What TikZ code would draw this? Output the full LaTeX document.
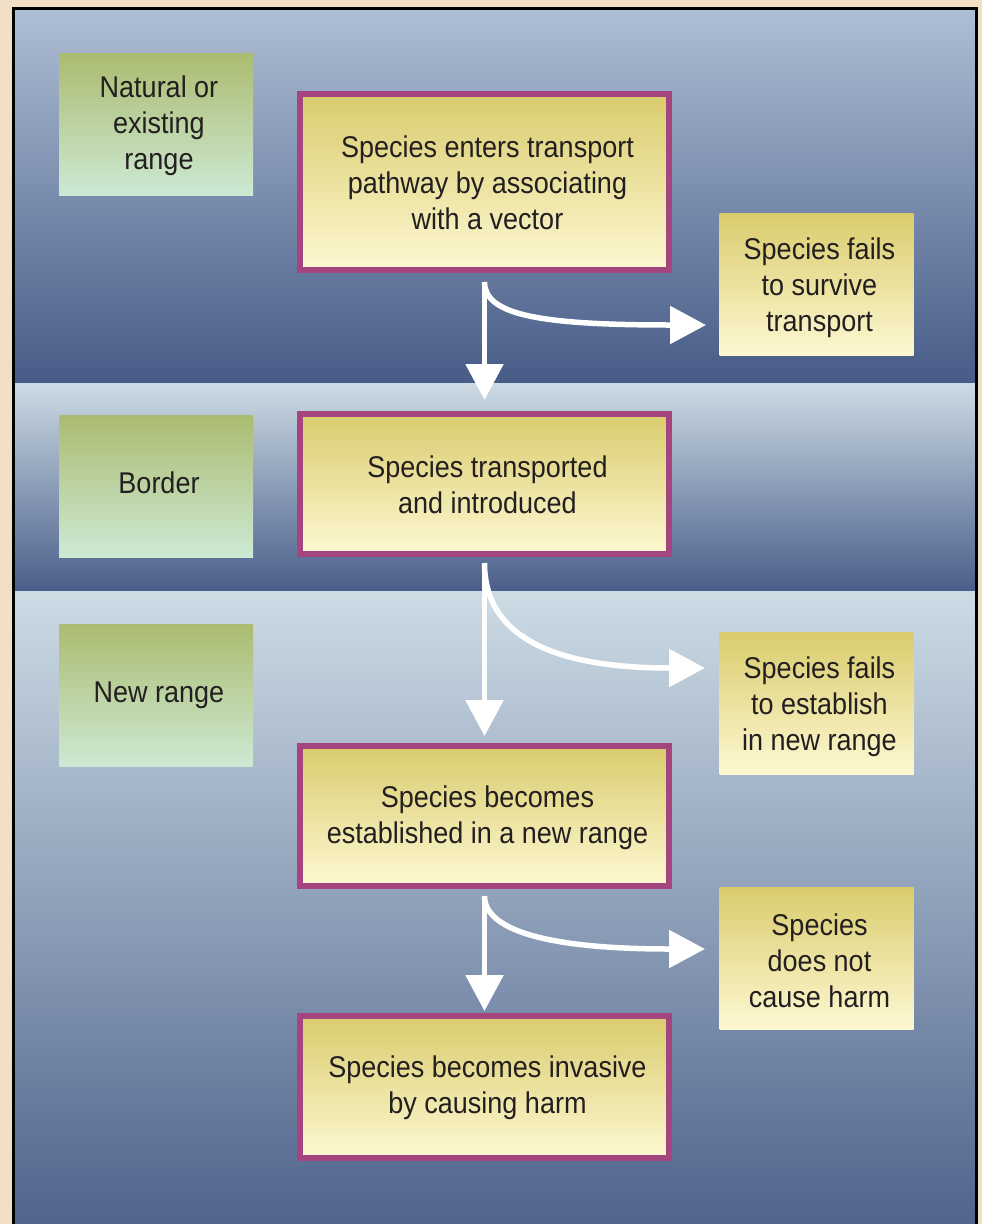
\documentclass[tikz,border=0pt]{standalone}
\usepackage{fontspec}
\setmainfont{Liberation Sans}[FakeStretch=0.9]
\usetikzlibrary{arrows.meta}
\definecolor{bg}{HTML}{F1E0C5}
\definecolor{bandtopA}{HTML}{AEBED4}
\definecolor{bandbotA}{HTML}{475B87}
\definecolor{bandtopB}{HTML}{CCDBE4}
\definecolor{bandbotB}{HTML}{4A5E8A}
\definecolor{bandbotC}{HTML}{50648D}
\definecolor{greentop}{HTML}{ABBC70}
\definecolor{greenbot}{HTML}{CDE9D4}
\definecolor{yeltop}{HTML}{D9CC6D}
\definecolor{yelbot}{HTML}{FEF8D2}
\definecolor{magborder}{HTML}{A4457F}
\definecolor{txt}{HTML}{231F20}
% #1 = extra height on top (moves text down by half of it), #2 = lines
\newcommand\boxtxt[2]{\raisebox{0pt}[\dimexpr\height+#1\relax][\depth]{\begin{tabular}{@{\hspace{6pt}}c@{}}#2\end{tabular}}}
\begin{document}
\begin{tikzpicture}[x=1pt,y=-1pt,
  every node/.style={text=txt, font=\fontsize{30}{36}\selectfont, inner sep=0pt},
  rangebox/.style={shading=axis, top color=greentop, bottom color=greenbot, minimum width=194pt, minimum height=142pt},
  mainbox/.style={shading=axis, top color=yeltop, bottom color=yelbot, draw=magborder, line width=6pt, minimum width=369pt},
  sidebox/.style={shading=axis, top color=yeltop, bottom color=yelbot, minimum width=194pt, minimum height=142pt},
  arr/.style={draw=white, line width=5.5pt, -{Triangle[length=36pt,width=37pt]}}
]
\useasboundingbox (0,0) rectangle (982,1224);
\fill[bg] (0,0) rectangle (982,1224);
% bands
\fill[top color=bandtopA, bottom color=bandbotA] (13,9) rectangle (976,383);
\fill[top color=bandtopB, bottom color=bandbotB] (13,383) rectangle (976,591);
\fill[top color=bandtopB, bottom color=bandbotC] (13,591) rectangle (976,1224);
\draw[black, line width=3pt] (13,1230) -- (13,8) -- (976,8) -- (976,1230);
% range labels
\node[rangebox] (r1) at (156,124.5) {\boxtxt{3pt}{Natural or\\existing\\range}};
\node[rangebox] (r2) at (156,486) {\boxtxt{0pt}{Border}};
\node[rangebox] (r3) at (156,695.5) {\boxtxt{0pt}{New range}};
% main boxes
\node[mainbox, minimum height=176pt] (m1) at (484.5,182) {\boxtxt{7.6pt}{Species enters transport\\pathway by associating\\with a vector}};
\node[mainbox, minimum height=140pt] (m2) at (484.5,484) {\boxtxt{7.6pt}{Species transported\\and introduced}};
\node[mainbox, minimum height=140pt] (m3) at (484.5,816) {\boxtxt{3.6pt}{Species becomes\\established in a new range}};
\node[mainbox, minimum height=142pt] (m4) at (484.5,1087) {\boxtxt{1.6pt}{Species becomes invasive\\by causing harm}};
% side boxes
\node[sidebox] (f1) at (816.5,284) {\boxtxt{7.6pt}{Species fails\\to survive\\transport}};
\node[sidebox] (f2) at (816.5,703) {\boxtxt{7.6pt}{Species fails\\to establish\\in new range}};
\node[sidebox] (f3) at (816.5,958) {\boxtxt{11.6pt}{Species\\does not\\cause harm}};
% arrow targets
\coordinate (t1) at (706,325);
\coordinate (t2) at (705,668);
\coordinate (t3) at (705,949);
% vertical arrows
\draw[arr, shorten <=9pt, shorten >=11pt] (m1.south) -- (m2.north);
\draw[arr, shorten <=6pt, shorten >=7pt] (m2.south) -- (m3.north);
\draw[arr, shorten <=7pt, shorten >=2pt] (m3.south) -- (m4.north);
% curved arrows
\draw[arr, shorten <=9pt] (m1.south) .. controls (484.5,315) and (540,325) .. (t1);
\draw[arr, shorten <=6pt] (m2.south) .. controls (484.5,640) and (560,668) .. (t2);
\draw[arr, shorten <=7pt] (m3.south) .. controls (484.5,928) and (540,949) .. (t3);
\end{tikzpicture}
\end{document}
